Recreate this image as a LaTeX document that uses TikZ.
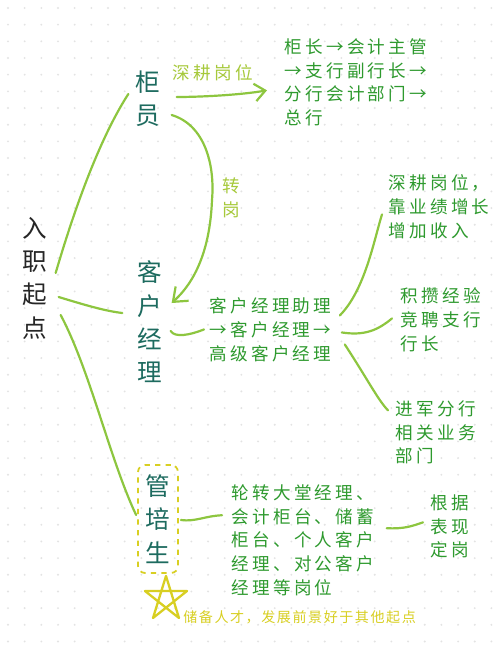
\documentclass[tikz,border=0pt]{standalone}
\usepackage{fontspec}
\newfontfamily\cjk{Noto Sans CJK SC}
\newfontfamily\cjkwide[LetterSpace=19]{Noto Sans CJK SC}
\newfontfamily\cjknote[LetterSpace=11]{Noto Sans CJK SC}
\usetikzlibrary{arrows.meta}

\definecolor{inkteal}{HTML}{1D6B5F}
\definecolor{inkgreen}{HTML}{2E9A2E}
\definecolor{stemgreen}{HTML}{8DC63F}
\definecolor{limegreen}{HTML}{A6C93A}
\definecolor{markyellow}{HTML}{D8CF22}

\tikzset{
	title/.style={font=\cjk\fontsize{14}{19}\selectfont, align=center, inner sep=0pt, text=inkteal},
	path text/.style={font=\cjkwide\fontsize{10}{13.6}\selectfont, align=left, inner sep=0pt, text=inkgreen},
	branch/.style={draw=stemgreen, line width=1.25pt, line cap=round},
	hint/.style={font=\cjkwide\fontsize{10}{13.6}\selectfont, align=center, inner sep=0pt, text=limegreen}
}

\begin{document}
\begin{tikzpicture}[x=0.02cm, y=-0.02cm]
		\useasboundingbox[fill=white] (0, 0) rectangle (500, 647);
		% dotted paper
		\foreach \i in {0,...,29}
			\foreach \j in {0,...,38}
				\fill[gray!22] (8+16.67*\i, 8+16.67*\j) circle (0.6pt);

		% main stems
		\node[title, text=black!85] (start) at (35, 278) {入\\职\\起\\点};
		\node[title] (guiyuan) at (148, 99) {柜\\员};
		\node[title] (kehu) at (150, 322) {客\\户\\经\\理};
		\node[title, draw=markyellow, dashed, line width=1pt, rounded corners=4pt, minimum width=0.8cm, minimum height=2.16cm] (guanpei) at (158, 519) {管\\培\\生};

		\draw[branch] ([shift={(8,-5)}]start.east) .. controls (80, 190) and (105, 130) .. ([shift={(-7,-5)}]guiyuan.west);
		\draw[branch] ([shift={(11,19)}]start.east) .. controls (85, 305) and (105, 311) .. ([shift={(-15,-9)}]kehu.west);
		\draw[branch] ([shift={(13,37)}]start.east) .. controls (90, 370) and (110, 460) .. ([shift={(-1,-4)}]guanpei.west);

		% teller
		\node[path text, anchor=north west] (route1) at (284, 38) {柜长→会计主管\\→支行副行长→\\分行会计部门→\\总行};
		\node[hint] (deep) at (213, 73) {深耕岗位};
		\draw[branch, -{Straight Barb[length=6pt, width=10pt]}] ([shift={(16,-2)}]guiyuan.east) .. controls (200, 97) and (240, 95) .. ([shift={(-17,8)}]route1.west);
		\node[hint] (switch) at (231, 198) {转\\岗};
		\draw[branch, -{Straight Barb[length=7pt, width=11pt]}] ([shift={(11,16)}]guiyuan.east) .. controls (205, 125) and (215, 165) .. (212, 200) .. controls (210, 250) and (195, 282) .. ([shift={(9,-19)}]kehu.east);

		% account manager
		\node[path text, anchor=north west] (route2) at (209, 297) {客户经理助理\\→客户经理→\\高级客户经理};
		\draw[branch] ([shift={(8,9)}]kehu.east) .. controls (175, 338) and (190, 335) .. ([shift={(-5,0)}]route2.west);
		\node[path text, anchor=north west] (leafa) at (388, 174) {深耕岗位，\\靠业绩增长\\增加收入};
		\node[path text, anchor=north west] (leafb) at (400, 287) {积攒经验\\竞聘支行\\行长};
		\node[path text, anchor=north west] (leafc) at (395, 400) {进军分行\\相关业务\\部门};
		\draw[branch] ([shift={(8,-14)}]route2.east) .. controls (365, 290) and (374, 240) .. ([shift={(-6,8)}]leafa.west);
		\draw[branch] ([shift={(10,3)}]route2.east) .. controls (365, 336) and (378, 330) .. ([shift={(-8,-1)}]leafb.west);
		\draw[branch] ([shift={(13,15)}]route2.east) .. controls (368, 380) and (378, 400) .. ([shift={(-7,-22)}]leafc.west);

		% trainee
		\node[path text, anchor=north west] (route3) at (231, 484) {轮转大堂经理、\\会计柜台、储蓄\\柜台、个人客户\\经理、对公客户\\经理等岗位};
		\draw[branch] ([shift={(2,1)}]guanpei.east) .. controls (195, 522) and (205, 516) .. ([shift={(-9,-25)}]route3.west);
		\node[path text, anchor=north west] (leafd) at (430, 494) {根据\\表现\\定岗};
		\draw[branch] ([shift={(12,-12)}]route3.east) .. controls (405, 529) and (412, 526) .. ([shift={(-7,-4)}]leafd.west);

		\draw[markyellow, line width=1.3pt, line join=round] (166, 576) -- (153, 618) -- (187, 591) -- (145, 591) -- (179, 618) -- cycle;
		\node[font=\cjknote\fontsize{8}{10}\selectfont, text=markyellow, inner sep=0pt, anchor=west] (note) at (183, 617) {储备人才，发展前景好于其他起点};
	\end{tikzpicture}
\end{document}
